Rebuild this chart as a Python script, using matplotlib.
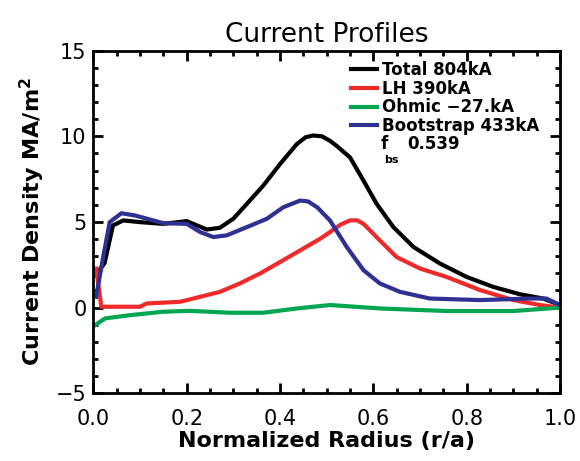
import matplotlib
matplotlib.use("Agg")
import matplotlib.pyplot as plt
from matplotlib.ticker import MultipleLocator

# Profile data (r/a, MA/m^2)
total_r = [0.005, 0.024, 0.042, 0.064, 0.100, 0.150, 0.200, 0.222, 0.243, 0.271, 0.300,
           0.329, 0.364, 0.400, 0.436, 0.455, 0.471, 0.490, 0.507, 0.521, 0.550, 0.579,
           0.607, 0.643, 0.686, 0.743, 0.800, 0.857, 0.914, 0.964, 1.000]
total_j = [1.9, 2.6, 4.8, 5.09, 4.99, 4.89, 5.05, 4.80, 4.56, 4.66, 5.19,
           6.06, 7.12, 8.38, 9.55, 9.95, 10.05, 10.0, 9.74, 9.45, 8.77, 7.41,
           6.06, 4.70, 3.54, 2.57, 1.79, 1.21, 0.78, 0.53, 0.15]

lh_r = [0.006, 0.017, 0.100, 0.114, 0.186, 0.229, 0.271, 0.314, 0.357, 0.400, 0.443,
        0.486, 0.507, 0.530, 0.550, 0.565, 0.579, 0.614, 0.650, 0.700, 0.757, 0.829,
        0.900, 0.957, 1.000]
lh_j = [2.28, 0.05, 0.05, 0.24, 0.34, 0.63, 0.92, 1.41, 1.99, 2.66, 3.34,
        4.02, 4.41, 4.85, 5.09, 5.1, 4.89, 3.92, 2.95, 2.28, 1.79, 1.02,
        0.44, 0.15, 0.0]

ohm_r = [0.004, 0.025, 0.079, 0.150, 0.207, 0.293, 0.364, 0.436, 0.507, 0.614,
         0.757, 0.900, 1.000]
ohm_j = [-1.02, -0.63, -0.44, -0.24, -0.19, -0.30, -0.30, -0.05, 0.15, -0.05,
         -0.20, -0.20, 0.0]

bs_r = [0.006, 0.021, 0.035, 0.060, 0.089, 0.150, 0.200, 0.229, 0.257, 0.286, 0.329,
        0.372, 0.407, 0.443, 0.460, 0.480, 0.507, 0.543, 0.579, 0.614, 0.657, 0.721,
        0.829, 0.936, 0.971, 1.000]
bs_j = [0.63, 2.95, 4.99, 5.51, 5.38, 4.93, 4.89, 4.41, 4.12, 4.22, 4.70,
        5.19, 5.86, 6.25, 6.2, 5.85, 5.09, 3.54, 2.18, 1.41, 0.92, 0.53,
        0.44, 0.53, 0.53, 0.15]

labels = ["Total 804kA", "LH 390kA", "Ohmic \u221227.kA", "Bootstrap 433kA"]
colors = ["#000000", "#ee2a2a", "#00a651", "#2e3192"]

fig = plt.figure(figsize=(5.8, 4.61), dpi=100)
ax = fig.add_axes([0.161, 0.147, 0.8045, 0.743])

series = [(total_r, total_j), (lh_r, lh_j), (ohm_r, ohm_j), (bs_r, bs_j)]
for (r, j), lab, c in zip(series, labels, colors):
    ax.plot(r, j, color=c, lw=3, label=lab, solid_joinstyle="round")

ax.set_xlim(0, 1)
ax.set_ylim(-5, 15)
ax.xaxis.set_major_locator(MultipleLocator(0.2))
ax.xaxis.set_minor_locator(MultipleLocator(0.05))
ax.yaxis.set_major_locator(MultipleLocator(5))
ax.yaxis.set_minor_locator(MultipleLocator(1))
ax.tick_params(which="both", direction="in", top=True, right=True, width=2)
ax.tick_params(which="major", length=7, labelsize=15)
ax.tick_params(axis="x", which="major", pad=11)
ax.tick_params(axis="y", which="major", pad=5)
ax.tick_params(which="minor", length=3.5)
ax.set_xticklabels([f"{v:.1f}" for v in ax.get_xticks()])
for s in ax.spines.values():
    s.set_linewidth(2)

ax.set_title("Current Profiles", fontsize=19, pad=6)
ax.set_xlabel("Normalized Radius (r/a)", fontsize=16, fontweight="bold", labelpad=2)
ax.set_ylabel("Current Density MA/m$^\\mathbf{2}$", fontsize=16, fontweight="bold", labelpad=6)

ax.legend(loc="upper left", bbox_to_anchor=(0.53, 1.0), frameon=False,
          prop={"size": 12, "weight": "bold"}, handlelength=1.6, handletextpad=0.3,
          labelspacing=0.05, borderaxespad=0.2)
ax.text(0.615, 0.712, "f", transform=ax.transAxes, fontsize=12, fontweight="bold")
ax.text(0.624, 0.672, "bs", transform=ax.transAxes, fontsize=8, fontweight="bold")
ax.text(0.672, 0.712, "0.539", transform=ax.transAxes, fontsize=12, fontweight="bold")

fig.savefig("out.png", dpi=100)
